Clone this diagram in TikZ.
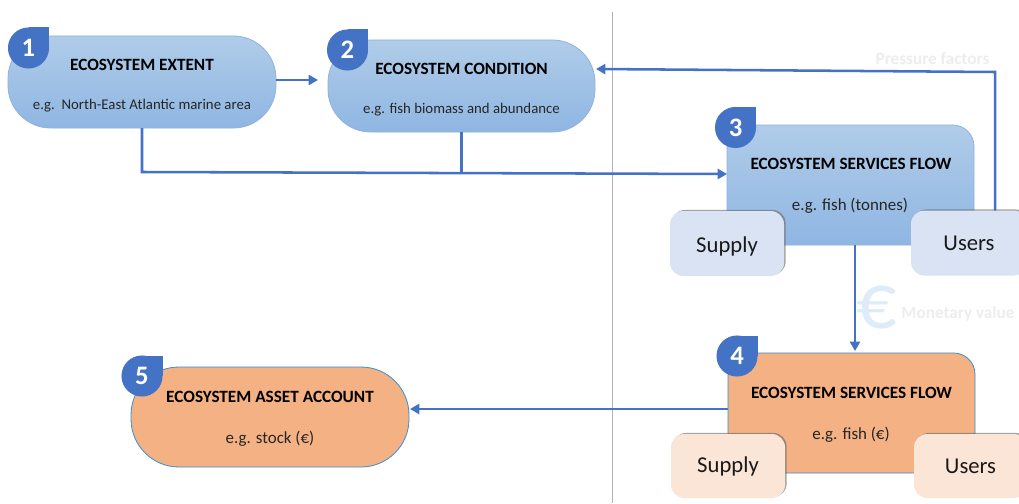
\documentclass[tikz,border=0pt]{standalone}
\usepackage{fontspec}
\setmainfont{Carlito}
\usetikzlibrary{shadows,arrows.meta}
\definecolor{flow}{HTML}{4472C4}
\definecolor{bluetop}{HTML}{B0CCE9}
\definecolor{bluebot}{HTML}{8FB6E2}
\definecolor{edgeblue}{HTML}{8DB3DE}
\definecolor{orangefill}{HTML}{F4B183}
\definecolor{paleblue}{HTML}{DAE3F3}
\definecolor{paleorange}{HTML}{FBE5D6}
\definecolor{ghost}{HTML}{EDEDED}
\definecolor{ghosteuro}{HTML}{DEEBF9}
\tikzset{
  x=0.75pt,y=-0.75pt,
  boxbase/.style={draw,line width=0.6pt,inner sep=0pt,outer sep=0pt},
  bluefill/.style={boxbase,draw=edgeblue,top color=bluetop,bottom color=bluebot},
  orangebox/.style={boxbase,draw=flow!80!cyan,fill=orangefill},
  sized/.style n args={2}{minimum width=#1*0.75pt,minimum height=#2*0.75pt},
  smallbox/.style={draw=none,inner sep=0pt,rounded corners=10pt,font=\fontsize{17}{19}\selectfont,text=black!90,
    drop shadow={shadow xshift=1.2pt,shadow yshift=0.8pt,fill=black!60,opacity=0.6}},
  title/.style={font=\fontsize{12.9}{15}\selectfont\bfseries,text=black},
  sub/.style={font=\fontsize{11.1}{13}\selectfont,text=black!85},
  subbig/.style={font=\fontsize{12.7}{15}\selectfont,text=black!85},
  flowline/.style={draw=flow,line width=1.9pt},
  flowarrow/.style={flowline,-{Triangle[length=7pt,width=7.5pt]}},
  badge/.style={fill=flow},
  badgenum/.style={font=\fontsize{20}{22}\selectfont\bfseries,text=white},
  ghosttext/.style={font=\fontsize{12.9}{15}\selectfont\bfseries,text=ghost},
}
\newcommand{\dropbadge}[3]{%
  \fill[badge] (#1,#2) circle[radius=15.4pt];
  \fill[badge] (#1,#2) rectangle (#1+20.5,#2-20.5);
  \node[badgenum] (#3) at (#1,#2) {#3};
}
\begin{document}
\begin{tikzpicture}
\useasboundingbox (0,0) rectangle (1019,503);
\clip (0,0) rectangle (1019,503);
\fill[white] (0,0) rectangle (1019,503);
\coordinate (septop) at (612,12);
\coordinate (sepbot) at (612,503);
\draw[black!30,line width=0.7pt] (septop) -- (sepbot);

% main boxes
\node[bluefill,sized={268}{92},rounded corners=32pt] (extent) at (142,82) {};
\node[bluefill,sized={267}{92},rounded corners=32pt] (condition) at (461.5,86) {};
\node[bluefill,sized={247}{120},rounded corners=16pt] (flowA) at (850.5,185) {};
\node[orangebox,sized={247}{120},rounded corners=16pt] (flowB) at (851.5,413) {};
\node[orangebox,sized={278}{100},rounded corners=36pt] (asset) at (270,417) {};

% connectors
\coordinate (joinA) at (142,172);
\coordinate (joinB) at (461.5,172.5);
\coordinate (entryA) at (727,174);
\coordinate (flowAout) at (855,245);
\coordinate (flowBin) at (855,351);
\coordinate (usersTop) at (995,211);
\coordinate (corner) at (995,72);
\coordinate (condIn) at (596,69);
\coordinate (flowBout) at (728,409);
\coordinate (assetIn) at (410,409);
\coordinate (extOut) at (276,80);
\coordinate (condOut) at (318,80);
\draw[flowarrow] (extOut) -- (condOut);
\draw[flowarrow] (extent.south) -- (joinA) -- (entryA);
\draw[flowline] (condition.south) -- (joinB);
\draw[flowarrow] (usersTop) -- (corner) -- (condIn);
\draw[flowarrow] (flowAout) -- (flowBin);
\draw[flowarrow] (flowBout) -- (assetIn);

% small boxes
\node[smallbox,fill=paleblue,sized={114}{65},text depth=0pt] (supplyA) at (727,243.5) {\raisebox{-1.6pt}{Supply}};
\node[smallbox,fill=paleblue,sized={116}{65}] (usersA) at (969,243) {Users};
\node[smallbox,fill=paleorange,sized={114}{64}] (supplyB) at (728,466) {\raisebox{-1.4pt}{Supply}};
\node[smallbox,fill=paleorange,sized={113}{64}] (usersB) at (970.5,466) {\raisebox{-1.4pt}{Users}};

% badges
\dropbadge{28.5}{48}{1}
\dropbadge{347.5}{50}{2}
\dropbadge{735.5}{127.5}{3}
\dropbadge{737}{356}{4}
\dropbadge{142}{376}{5}

% texts
\node[title] (t1) at (142,64.5) {ECOSYSTEM EXTENT};
\node[sub] (s1) at (142,105.5) {e.g.\ \ North-East Atlantic marine area};
\node[title] (t2) at (461.5,68.5) {ECOSYSTEM CONDITION};
\node[sub] (s2) at (461.5,109.5) {e.g. fish biomass and abundance};
\node[title] (t3) at (851,163.5) {ECOSYSTEM SERVICES FLOW};
\node[subbig] (s3) at (850,205.5) {e.g. fish (tonnes)};
\node[title] (t4) at (851.5,392.5) {ECOSYSTEM SERVICES FLOW};
\node[subbig] (s4) at (851,434.5) {e.g. fish (€)};
\node[title] (t5) at (270,397) {ECOSYSTEM ASSET ACCOUNT};
\node[subbig] (s5) at (270,439) {e.g. stock (€)};

% faint labels
\node[ghosttext] (pressure) at (932.5,59) {Pressure factors};
\node[ghosttext] (monetary) at (958,313.5) {Monetary value};
\node[font=\fontsize{60}{62}\selectfont,text=ghosteuro] (euro) at (877,308) {€};
\end{tikzpicture}
\end{document}
